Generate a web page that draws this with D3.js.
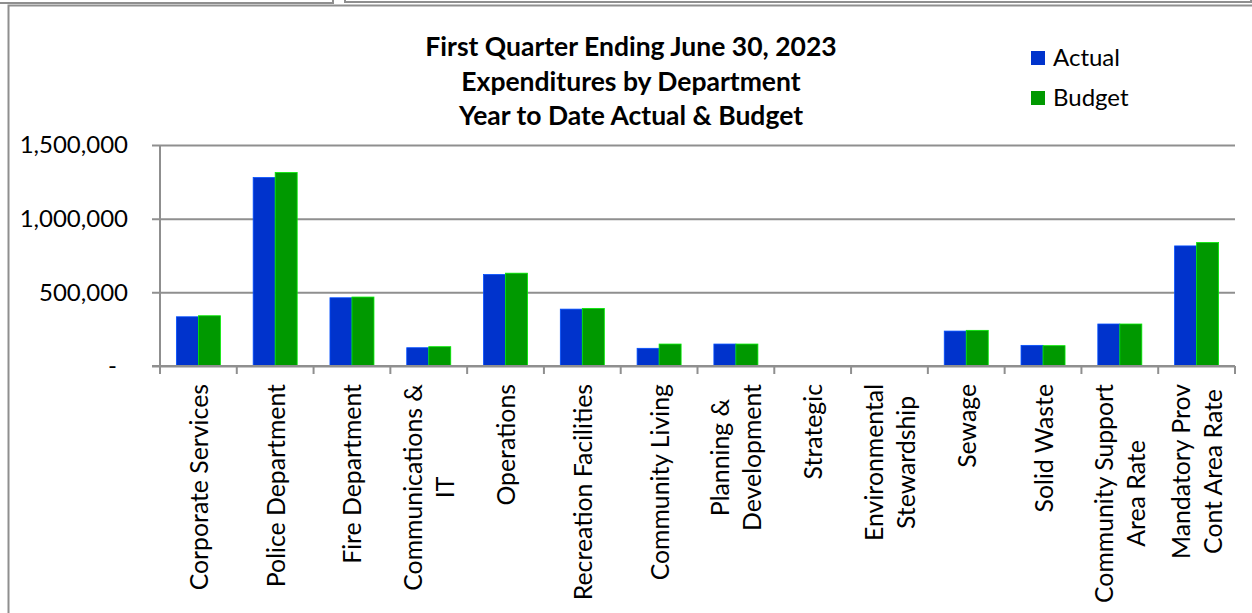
<!DOCTYPE html>
<html lang="en">
    <head>
        <meta charset="utf-8">
        <title>Expenditures by Department</title>
        <script type="text/javascript" src="https://cdn.jsdelivr.net/npm/d3@7"></script>
        <style type="text/css">
			body {
				margin: 0;
				background-color: white;
			}
			text {
				font-family: "Lato", "Open Sans", sans-serif;
				fill: black;
			}
		</style>
    </head>
    <body>
        <script type="text/javascript">

			var w= 1252;
			var h= 613;

			//chart data
			var categories= ["Corporate Services", "Police Department", "Fire Department", "Communications & IT",
							"Operations", "Recreation Facilities", "Community Living", "Planning & Development",
							"Strategic", "Environmental Stewardship", "Sewage", "Solid Waste",
							"Community Support Area Rate", "Mandatory Prov Cont Area Rate"];
			var labelLines= [["Corporate Services"], ["Police Department"], ["Fire Department"], ["Communications &", "IT"],
							["Operations"], ["Recreation Facilities"], ["Community Living"], ["Planning &", "Development"],
							["Strategic"], ["Environmental", "Stewardship"], ["Sewage"], ["Solid Waste"],
							["Community Support", "Area Rate"], ["Mandatory Prov", "Cont Area Rate"]];
			var series= ["Actual", "Budget"];
			var actual= [334000, 1279000, 463000, 124000, 621000, 386000, 120000, 149000, 1000, 0, 237000, 140000, 285000, 815000];
			var budget= [341000, 1313000, 468000, 131000, 630000, 391000, 149000, 149000, 1000, 0, 242000, 138000, 285000, 838000];
			var yTicks= [0, 500000, 1000000, 1500000];
			var titleLines= ["First Quarter Ending June 30, 2023", "Expenditures by Department", "Year to Date Actual & Budget"];

			var colors= {"Actual": "#0033cc", "Budget": "#009900"};
			var grey= "#8f8f8f";

			var svg= d3.select("body")
						.append("svg")
						.attr("width", w)
						.attr("height", h);

			//frame and the boxes peeking in at the top
			svg.append("path")
					.attr("d", "M 0 3 H 333 V -2 M 345 -2 V 2 H 1251 V -2")
					.attr("fill", "none")
					.attr("stroke", grey)
					.attr("stroke-width", 2);
			svg.append("rect")
					.attr("x", 8.5)
					.attr("y", 5.5)
					.attr("width", 1260)
					.attr("height", 640)
					.attr("fill", "none")
					.attr("stroke", grey)
					.attr("stroke-width", 2);

			//scales
			var x= d3.scaleBand()
					.domain(categories)
					.range([160, 1235]);
			var x1= d3.scaleBand()
					.domain(series)
					.range([0, x.bandwidth()])
					.paddingOuter(0.745);
			var y= d3.scaleLinear()
					.domain([0, 1500000])
					.range([366, 145]);

			//gridlines + y labels
			var yAxis= svg.append("g")
					.attr("transform", "translate(160,0)")
					.call(d3.axisLeft(y)
						.tickValues(yTicks)
						.tickSize(-(1235 - 160))
						.tickPadding(0)
						.tickFormat(function(d){ return d == 0 ? "-" : d3.format(",")(d); }));
			yAxis.select(".domain").remove();
			yAxis.selectAll(".tick line")
					.attr("x1", -8)
					.attr("stroke", grey)
					.attr("stroke-width", 2);
			yAxis.selectAll(".tick text")
					.attr("x", function(d){ return d == 0 ? -43 : -32; })
					.attr("font-size", 24)
					.attr("fill", "black");

			//bars
			var rows= categories.map(function(c, i){ return {cat: c, vals: [actual[i], budget[i]]}; });
			var groups= svg.selectAll("g.group")
					.data(rows)
					.enter()
					.append("g")
					.attr("class", "group")
					.attr("transform", function(d){ return "translate(" + x(d.cat) + ",0)"; });
			groups.selectAll("rect")
					.data(function(d){ return d.vals.map(function(v, j){ return {s: series[j], v: v}; }); })
					.enter()
					.append("rect")
					.attr("x", function(d){ return x1(d.s); })
					.attr("y", function(d){ return y(d.v); })
					.attr("width", x1.bandwidth())
					.attr("height", function(d){ return y(0) - y(d.v); })
					.attr("fill", function(d){ return colors[d.s]; })
					.attr("stroke", function(d){ return d3.rgb(colors[d.s]).brighter(1.2); })
					.attr("stroke-width", 0.8);

			//y axis line, x axis line and ticks
			svg.append("line")
					.attr("x1", 160).attr("x2", 160)
					.attr("y1", 145).attr("y2", 366)
					.attr("stroke", grey).attr("stroke-width", 2);
			var xAxis= svg.append("g")
					.attr("transform", "translate(0,366)");
			xAxis.append("line")
					.attr("x1", 152).attr("x2", 1235)
					.attr("stroke", grey).attr("stroke-width", 2);
			xAxis.selectAll("line.tick")
					.data(categories.concat(["end"]))
					.enter()
					.append("line")
					.attr("class", "tick")
					.attr("x1", function(d){ return d == "end" ? 1235 : x(d); })
					.attr("x2", function(d){ return d == "end" ? 1235 : x(d); })
					.attr("y1", 0).attr("y2", 8)
					.attr("stroke", grey).attr("stroke-width", 2);

			//rotated category labels
			var labels= svg.selectAll("g.label")
					.data(categories)
					.enter()
					.append("g")
					.attr("class", "label")
					.attr("transform", function(d){ return "translate(" + (x(d) + x.bandwidth() / 2) + ",384) rotate(-90)"; });
			labels.each(function(d, i){
				var g= d3.select(this);
				var lines= labelLines[i];
				var texts= g.selectAll("text")
						.data(lines)
						.enter()
						.append("text")
						.attr("text-anchor", "middle")
						.attr("dominant-baseline", "central")
						.attr("font-size", 24.8)
						.attr("y", function(l, k){ return (k - (lines.length - 1) / 2) * 32; })
						.text(function(l){ return l; });
				var maxW= d3.max(texts.nodes(), function(n){ return n.getComputedTextLength(); });
				texts.attr("x", -maxW / 2);
			});

			//title
			svg.append("g")
					.selectAll("text")
					.data(titleLines)
					.enter()
					.append("text")
					.attr("x", 631)
					.attr("y", function(d, i){ return 56 + i * 34.5; })
					.attr("text-anchor", "middle")
					.attr("font-size", 26.5)
					.attr("font-weight", "bold")
					.text(function(d){ return d; });

			//legend
			var legend= svg.selectAll("g.legend")
					.data(series)
					.enter()
					.append("g")
					.attr("class", "legend")
					.attr("transform", function(d, i){ return "translate(1031," + (51 + i * 40) + ")"; });
			legend.append("rect")
					.attr("width", 14)
					.attr("height", 14)
					.attr("fill", function(d){ return colors[d]; });
			legend.append("text")
					.attr("x", 22)
					.attr("y", 15)
					.attr("font-size", 24)
					.text(function(d){ return d; });

        </script>
    </body>
</html>
